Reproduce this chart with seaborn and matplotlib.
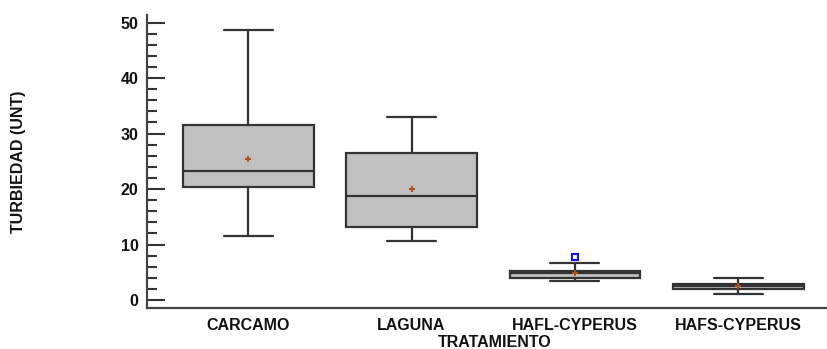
import matplotlib
matplotlib.use("Agg")
import matplotlib.pyplot as plt
import seaborn as sns
import pandas as pd
from matplotlib.ticker import MultipleLocator

# Summary statistics (NTU)
treatments = ["CARCAMO", "LAGUNA", "HAFL-CYPERUS", "HAFS-CYPERUS"]
whisker_low = [11.5, 10.6, 3.5, 1.1]
q1 = [20.3, 13.2, 3.9, 2.0]
median = [23.3, 18.7, 4.8, 2.5]
q3 = [31.6, 26.5, 5.3, 2.9]
whisker_high = [48.7, 33.0, 6.7, 3.9]
mean = [25.4, 20.0, 4.9, 2.5]
outliers = [[], [], [7.7], []]

sns.set_style("ticks")
plt.rcParams['font.family'] = ['Liberation Sans', 'DejaVu Sans']

fig = plt.figure(figsize=(8.28, 3.49), dpi=100)
ax = fig.add_axes([0.1775, 0.1175, 0.8225, 0.8385])

stats = [
    dict(label=t, whislo=lo, q1=a, med=m, q3=b, whishi=hi, fliers=f)
    for t, lo, a, m, b, hi, f in zip(treatments, whisker_low, q1, median, q3, whisker_high, outliers)
]
edge = "#333333"
ax.bxp(stats, positions=range(len(treatments)), widths=0.8, patch_artist=True,
       showfliers=True,
       boxprops=dict(facecolor="#c0c0c0", edgecolor=edge, linewidth=1.6),
       medianprops=dict(color=edge, linewidth=1.6),
       whiskerprops=dict(color=edge, linewidth=1.6),
       capprops=dict(color=edge, linewidth=1.6),
       flierprops=dict(marker="s", markersize=4.5, markerfacecolor="white",
                       markeredgecolor="#1010ff", markeredgewidth=1.5),
       capwidths=0.3)

means_df = pd.DataFrame({"x": range(len(treatments)), "mean": mean})
sns.scatterplot(data=means_df, x="x", y="mean", marker="+", color="#b0521a",
                s=25, linewidth=1.4, ax=ax, zorder=5, legend=False)

ax.set_xlim(-0.62, 3.55)
ax.set_ylim(-1.44, 51.3)
ax.yaxis.set_major_locator(MultipleLocator(10))
ax.yaxis.set_minor_locator(MultipleLocator(2))
ax.tick_params(axis="y", which="major", direction="in", length=13, width=1.5,
               color=edge, labelsize=11.5, pad=6)
ax.tick_params(axis="y", which="minor", direction="in", length=7, width=1.5, color=edge)
ax.tick_params(axis="x", length=0, labelsize=11.5, pad=7)
ax.set_xticks(range(len(treatments)))
ax.set_xticklabels(treatments, fontweight="bold", color="#111111")
for lbl in ax.get_yticklabels():
    lbl.set_fontweight("bold")
    lbl.set_color("#111111")

ax.set_xlabel("TRATAMIENTO", fontsize=11.5, fontweight="bold", color="#111111", va="top")
ax.set_ylabel("TURBIEDAD (UNT)", fontsize=11.5, fontweight="bold", color="#111111", va="center")
ax.xaxis.set_label_coords(0.51, -0.093)
ax.yaxis.set_label_coords(-0.189, 0.5)

for side in ["top", "right"]:
    ax.spines[side].set_visible(False)
for side in ["left", "bottom"]:
    ax.spines[side].set_color("#444444")
    ax.spines[side].set_linewidth(1.6)

fig.savefig("out.png", dpi=100)
